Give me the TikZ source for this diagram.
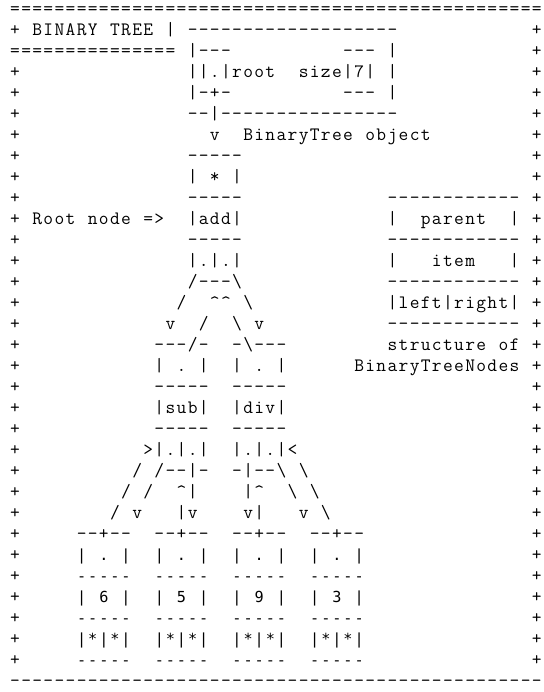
\documentclass[tikz,border=0pt]{standalone}
\usepackage{fontspec}
\newfontfamily\leaffont{DejaVu Sans Mono}
\newcommand{\bsl}{\textbackslash}
\newcommand{\crt}{\textasciicircum}
% every character gets a cell of one column (8.325pt)
\makeatletter
\newcommand{\cells}[1]{\@tfor\cel@ch:=#1\do{\hbox to 8.325pt{\hss\cel@ch\hss}}}
\makeatother
\tikzset{every node/.style={inner sep=0pt,outer sep=0pt,anchor=base west},
  asc/.style={font=\ttfamily\fontsize{14.2pt}{16pt}\selectfont,yshift=-3.5pt},
  leaf/.style={font=\leaffont\fontsize{11.4pt}{16pt}\selectfont,yshift=-3pt}}

\begin{document}
\begin{tikzpicture}[x=8.325pt,y=-15.75pt]
\useasboundingbox (-0.856,-0.476) rectangle (48.15,32.476);
% frame
\node[asc] (toprule) at (0,0) {\cells{================================================}};
\node[asc] (title) at (0,1) {\cells{+~BINARY~TREE~|}};
\node[asc] (titlerule) at (0,2) {\cells{===============}};
\foreach \r in {3,...,31}
  \node[asc] (pl\r) at (0,\r) {\cells{+}};
\foreach \r in {1,...,31}
  \node[asc] (pr\r) at (47,\r) {\cells{+}};
\node[asc] (botrule) at (0,32) {\cells{------------------------------------------------}};

% BinaryTree object
\node[asc] (obj1) at (16,1) {\cells{-------------------}};
\node[asc] (obj2) at (16,2) {\cells{|---~~~~~~~~~~---~|}};
\node[asc] (obj3) at (16,3) {\cells{||.|root~~size|7|~|}};
\node[asc] (obj4) at (16,4) {\cells{|-+-~~~~~~~~~~---~|}};
\node[asc] (obj5) at (16,5) {\cells{--|----------------}};
\node[asc] (objv) at (18,6) {\cells{v}};
\node[asc] (objlabel) at (21,6) {\cells{BinaryTree~object}};

% root node
\node[asc] (rootlabel) at (2,10) {\cells{Root~node~=>}};
\node[asc] (add1) at (16,7) {\cells{-----}};
\node[asc] (add2) at (16,8) {\cells{|~*~|}};
\node[asc] (add3) at (16,9) {\cells{-----}};
\node[asc] (add4) at (16,10) {\cells{|add|}};
\node[asc] (add5) at (16,11) {\cells{-----}};
\node[asc] (add6) at (16,12) {\cells{|.|.|}};
\node[asc] (add7) at (16,13) {\cells{/---\bsl}};
\node[asc] (e14a) at (15,14) {\cells{/}};
\node[asc] (e14b) at (18,14) {\cells{\crt\crt}};
\node[asc] (e14c) at (21,14) {\cells{\bsl}};
\node[asc] (e15a) at (14,15) {\cells{v}};
\node[asc] (e15b) at (17,15) {\cells{/}};
\node[asc] (e15c) at (20,15) {\cells{\bsl}};
\node[asc] (e15d) at (22,15) {\cells{v}};

% structure of a node
\node[asc] (leg1) at (34,9) {\cells{------------}};
\node[asc] (leg2) at (34,10) {\cells{|~~parent~~|}};
\node[asc] (leg3) at (34,11) {\cells{------------}};
\node[asc] (leg4) at (34,12) {\cells{|~~~item~~~|}};
\node[asc] (leg5) at (34,13) {\cells{------------}};
\node[asc] (leg6) at (34,14) {\cells{|left|right|}};
\node[asc] (leg7) at (34,15) {\cells{------------}};
\node[asc] (legtext1) at (34,16) {\cells{structure~of}};
\node[asc] (legtext2) at (31,17) {\cells{BinaryTreeNodes}};

% sub and div
\node[asc] (sub1) at (13,16) {\cells{---/-}};
\node[asc] (sub2) at (13,17) {\cells{|~.~|}};
\node[asc] (sub3) at (13,18) {\cells{-----}};
\node[asc] (sub4) at (13,19) {\cells{|sub|}};
\node[asc] (sub5) at (13,20) {\cells{-----}};
\node[asc] (sub6) at (12,21) {\cells{>|.|.|}};
\node[asc] (div1) at (20,16) {\cells{-\bsl---}};
\node[asc] (div2) at (20,17) {\cells{|~.~|}};
\node[asc] (div3) at (20,18) {\cells{-----}};
\node[asc] (div4) at (20,19) {\cells{|div|}};
\node[asc] (div5) at (20,20) {\cells{-----}};
\node[asc] (div6) at (20,21) {\cells{|.|.|<}};

% pointers down to the leaves
\node[asc] (e22a) at (11,22) {\cells{/~/--|-}};
\node[asc] (e22b) at (20,22) {\cells{-|--\bsl~\bsl}};
\node[asc] (e23a) at (10,23) {\cells{/~/}};
\node[asc] (e23b) at (15,23) {\cells{\crt|}};
\node[asc] (e23c) at (21,23) {\cells{|\crt}};
\node[asc] (e23d) at (25,23) {\cells{\bsl~\bsl}};
\node[asc] (e24a) at (9,24) {\cells{/~v}};
\node[asc] (e24b) at (15,24) {\cells{|v}};
\node[asc] (e24c) at (21,24) {\cells{v|}};
\node[asc] (e24d) at (26,24) {\cells{v~\bsl}};

% leaves
\foreach \c/\v/\n in {6/6/six,13/5/five,20/9/nine,27/3/three}{
  \node[asc] (\n-1) at (\c,25) {\cells{--+--}};
  \node[leaf] (\n-2) at (\c,26) {\cells{|~.~|}};
  \node[leaf] (\n-3) at (\c,27) {\cells{-----}};
  \node[leaf] (\n-4) at (\c,28) {\cells{|~\v~|}};
  \node[leaf] (\n-5) at (\c,29) {\cells{-----}};
  \node[leaf] (\n-6) at (\c,30) {\cells{|*|*|}};
  \node[leaf] (\n-7) at (\c,31) {\cells{-----}};
}
\end{tikzpicture}
\end{document}
